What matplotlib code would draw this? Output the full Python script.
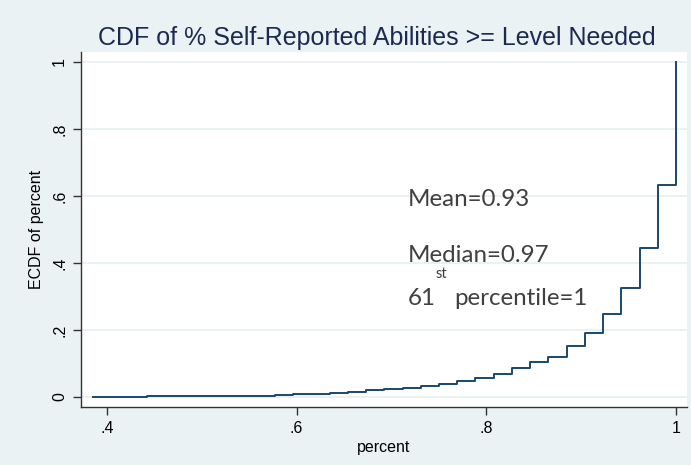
import matplotlib.pyplot as plt

# distinct values of "percent" (share of abilities at or above needed level)
percent_vals = [0.385, 0.442, 0.519, 0.558, 0.577, 0.596, 0.615, 0.635, 0.654,
                0.673, 0.692, 0.712, 0.731, 0.750, 0.769, 0.788, 0.808, 0.827,
                0.846, 0.865, 0.885, 0.904, 0.923, 0.942, 0.962, 0.981, 1.000]
# empirical CDF read at each value
ecdf_vals = [0.001, 0.0015, 0.002, 0.003, 0.006, 0.009, 0.010, 0.013, 0.016,
             0.020, 0.023, 0.027, 0.033, 0.038, 0.047, 0.057, 0.070, 0.086,
             0.105, 0.118, 0.152, 0.190, 0.249, 0.326, 0.444, 0.633, 1.000]

x_ticks = [0.4, 0.6, 0.8, 1.0]
x_tick_labels = ['.4', '.6', '.8', '1']
y_ticks = [0, 0.2, 0.4, 0.6, 0.8, 1.0]
y_tick_labels = ['0', '.2', '.4', '.6', '.8', '1']

bg = '#eaf2f3'
navy = '#1a476f'

plt.rcParams['font.family'] = ['Liberation Sans', 'DejaVu Sans']

fig = plt.figure(figsize=(6.91, 4.65), dpi=100, facecolor=bg)
ax = fig.add_axes([0.1172, 0.1247, 0.877, 0.7635])
ax.set_facecolor('white')

ax.step(percent_vals, ecdf_vals, where='post', color=navy, lw=1.4, zorder=3)

ax.set_xlim(0.3726, 1.0116)
ax.set_ylim(-0.03, 1.03)
ax.set_xticks(x_ticks)
ax.set_xticklabels(x_tick_labels, fontsize=11.5)
ax.set_yticks(y_ticks)
ax.set_yticklabels(y_tick_labels, fontsize=11.5, rotation=90, va='center')
ax.tick_params(direction='out', length=6, width=1, color='#333333', pad=4)

# faint stata-style horizontal grid
ax.grid(axis='y', color='#e6eff1', lw=1.2, zorder=0)

for side in ['top', 'right']:
    ax.spines[side].set_visible(False)
for side in ['left', 'bottom']:
    ax.spines[side].set_color('#333333')
    ax.spines[side].set_linewidth(1)

ax.set_xlabel('percent', fontsize=11.5, labelpad=3)
ax.set_ylabel('ECDF of percent', fontsize=11.5, labelpad=6)

fig.text(0.546, 0.918, 'CDF of % Self-Reported Abilities >= Level Needed',
         ha='center', va='center', fontsize=18, color='#1c2a52')

# summary annotations
note_font = ['Lato', 'DejaVu Sans']
note_color = '#404040'
ax.text(0.717, 0.570, 'Mean=0.93', fontsize=17.4, color=note_color,
        family=note_font, va='baseline')
ax.text(0.717, 0.403, 'Median=0.97', fontsize=17.4, color=note_color,
        family=note_font, va='baseline')
ax.text(0.717, 0.275, '61', fontsize=17.4, color=note_color,
        family=note_font, va='baseline')
ax.text(0.746, 0.355, 'st', fontsize=10.5, color=note_color,
        family=note_font, va='baseline')
ax.text(0.766, 0.275, 'percentile=1', fontsize=17.4, color=note_color,
        family=note_font, va='baseline')

fig.savefig('out.png', dpi=100, facecolor=bg)
